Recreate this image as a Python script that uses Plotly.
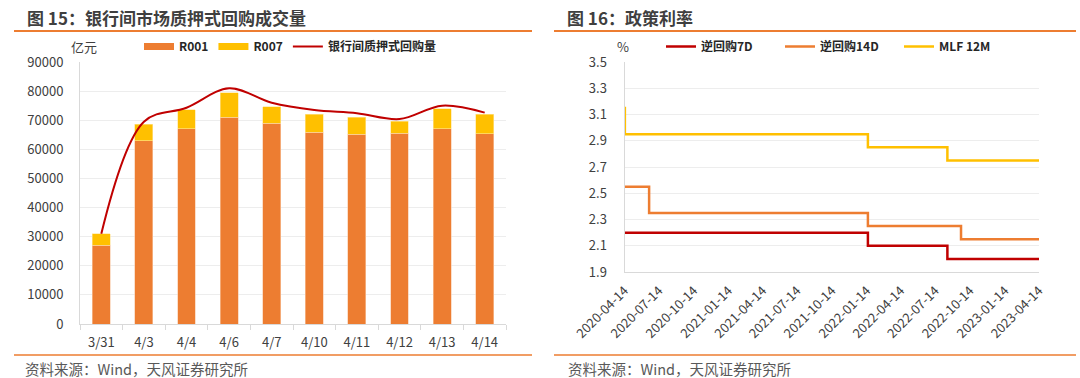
import plotly.graph_objects as go

# ---------------- data ----------------
categories = ["3/31", "4/3", "4/4", "4/6", "4/7", "4/10", "4/11", "4/12", "4/13", "4/14"]
r001 = [27000, 63000, 67000, 71000, 69000, 65800, 65200, 65600, 67100, 65300]
r007 = [4000, 5600, 6600, 8500, 5700, 6200, 5900, 4100, 6800, 6700]
repo_total = [31000, 69500, 74300, 81000, 76000, 73500, 72400, 70400, 75000, 72600]

dates_7d = ["2020-04-14", "2022-01-17", "2022-08-15", "2023-04-14"]
rate_7d = [2.20, 2.10, 2.00, 2.00]
dates_14d = ["2020-04-14", "2020-06-18", "2022-01-17", "2022-09-20", "2023-04-14"]
rate_14d = [2.55, 2.35, 2.25, 2.15, 2.15]
dates_mlf = ["2020-04-14", "2020-04-15", "2022-01-17", "2022-08-15", "2023-04-14"]
rate_mlf = [3.15, 2.95, 2.85, 2.75, 2.75]

date_ticks = ["2020-04-14", "2020-07-14", "2020-10-14", "2021-01-14", "2021-04-14",
              "2021-07-14", "2021-10-14", "2022-01-14", "2022-04-14", "2022-07-14",
              "2022-10-14", "2023-01-14", "2023-04-14"]

C_R001 = "#ED7D31"
C_R007 = "#FFC000"
C_RED = "#C00000"
FONT = "Noto Sans CJK SC"
TXT = "#404040"
GRID = "#EDEDED"
AXIS = "#D9D9D9"

W, H = 1080, 378
def px(x):
    return x / W
def py(y):
    return 1 - y / H

fig = go.Figure()

# ---------------- left chart ----------------
fig.add_trace(go.Bar(x=categories, y=r001, marker=dict(color=C_R001, line=dict(width=0.6, color="#F8C9A8")),
                     showlegend=False, xaxis="x", yaxis="y", name="R001"))
fig.add_trace(go.Bar(x=categories, y=r007, marker=dict(color=C_R007, line=dict(width=0.6, color="#FFE59A")),
                     showlegend=False, xaxis="x", yaxis="y", name="R007"))
fig.add_trace(go.Scatter(x=categories, y=repo_total, mode="lines",
                         line=dict(color=C_RED, width=2, shape="spline", smoothing=1.0),
                         showlegend=False, xaxis="x", yaxis="y", name="银行间质押式回购量"))
# legend entries
for nm, col, w in [("R001", C_R001, 7), ("R007", C_R007, 7), ("银行间质押式回购量", C_RED, 2)]:
    fig.add_trace(go.Scatter(x=[None], y=[None], mode="lines", line=dict(color=col, width=w),
                             name=nm, xaxis="x", yaxis="y", legend="legend"))

# ---------------- right chart ----------------
for nm, d, v, col in [("逆回购7D", dates_7d, rate_7d, C_RED),
                      ("逆回购14D", dates_14d, rate_14d, C_R001),
                      ("MLF 12M", dates_mlf, rate_mlf, C_R007)]:
    fig.add_trace(go.Scatter(x=d, y=v, mode="lines", line=dict(color=col, width=2.5, shape="hv"),
                             name=nm, xaxis="x2", yaxis="y2", legend="legend2"))

fig.update_layout(
    width=W, height=H,
    margin=dict(l=0, r=0, t=0, b=0, autoexpand=False),
    paper_bgcolor="white", plot_bgcolor="white",
    barmode="stack", bargap=0.58,
    font=dict(family=FONT, size=13, color=TXT),
    xaxis=dict(domain=[px(80), px(506)], type="category", showgrid=False,
               showline=True, linecolor=AXIS, linewidth=1,
               ticks="outside", tickson="boundaries", ticklen=5, tickcolor=AXIS,
               ticklabelstandoff=6,
               tickfont=dict(size=13, color=TXT), anchor="y", automargin=False),
    yaxis=dict(domain=[py(324), py(62)], range=[0, 90000], dtick=10000,
               showgrid=True, gridcolor=GRID, zeroline=False,
               showline=True, linecolor=AXIS, linewidth=1,
               tickformat="d", ticks="", ticklabelstandoff=13,
               tickfont=dict(size=13, color=TXT), anchor="x", automargin=False),
    xaxis2=dict(domain=[px(624.5), px(1039)], type="date",
                range=["2020-04-14", "2023-04-14"],
                tickvals=date_ticks, ticktext=date_ticks, tickangle=-45,
                showgrid=False, showline=True, linecolor=AXIS, linewidth=1,
                ticks="", ticklabelstandoff=5,
                tickfont=dict(size=13, color=TXT), anchor="y2", automargin=False),
    yaxis2=dict(domain=[py(272), py(62)], range=[1.9, 3.5], dtick=0.2, tick0=1.9,
                tickformat=".1f", showgrid=True, gridcolor=GRID, zeroline=False,
                showline=True, linecolor=AXIS, linewidth=1, ticks="", ticklabelstandoff=14,
                tickfont=dict(size=13, color=TXT), anchor="x2", automargin=False),
    legend=dict(orientation="h", x=px(139), y=py(46.5), xanchor="left", yanchor="middle",
                font=dict(size=12, color="#262626", weight="bold"), bgcolor="rgba(0,0,0,0)",
                traceorder="normal", itemclick=False, tracegroupgap=0),
    legend2=dict(orientation="h", x=px(661), y=py(46.5), xanchor="left", yanchor="middle",
                 font=dict(size=12, color="#262626", weight="bold"), bgcolor="rgba(0,0,0,0)",
                 traceorder="normal", entrywidth=74, itemclick=False),
)

# titles, rules, notes
shapes = []
for x0, x1 in [(14, 532), (554, 1076)]:
    shapes.append(dict(type="line", xref="paper", yref="paper", x0=px(x0), x1=px(x1),
                       y0=py(31), y1=py(31), line=dict(color=C_R001, width=2)))
    shapes.append(dict(type="line", xref="paper", yref="paper", x0=px(x0), x1=px(x1),
                       y0=py(355), y1=py(355), line=dict(color=C_R001, width=1.5)))
fig.update_layout(shapes=shapes)

annos = [
    dict(text="<b>图 15：银行间市场质押式回购成交量</b>", x=px(25), y=py(17), font=dict(size=17, color="#3F3F3F")),
    dict(text="<b>图 16：政策利率</b>", x=px(565), y=py(17), font=dict(size=17, color="#3F3F3F")),
    dict(text="资料来源：Wind，天风证券研究所", x=px(23), y=py(368), font=dict(size=14.5, color="#595959")),
    dict(text="资料来源：Wind，天风证券研究所", x=px(566), y=py(368), font=dict(size=14.5, color="#595959")),
    dict(text="亿元", x=px(69), y=py(46.5), font=dict(size=13, color=TXT)),
    dict(text="%", x=px(615), y=py(46.5), font=dict(size=13, color=TXT)),
]
for a in annos:
    fig.add_annotation(xref="paper", yref="paper", xanchor="left", yanchor="middle",
                       showarrow=False, **a)

fig.write_html("out.html", config={"displayModeBar": False},
               post_script="document.body.style.margin='0';document.body.style.overflow='hidden';")
